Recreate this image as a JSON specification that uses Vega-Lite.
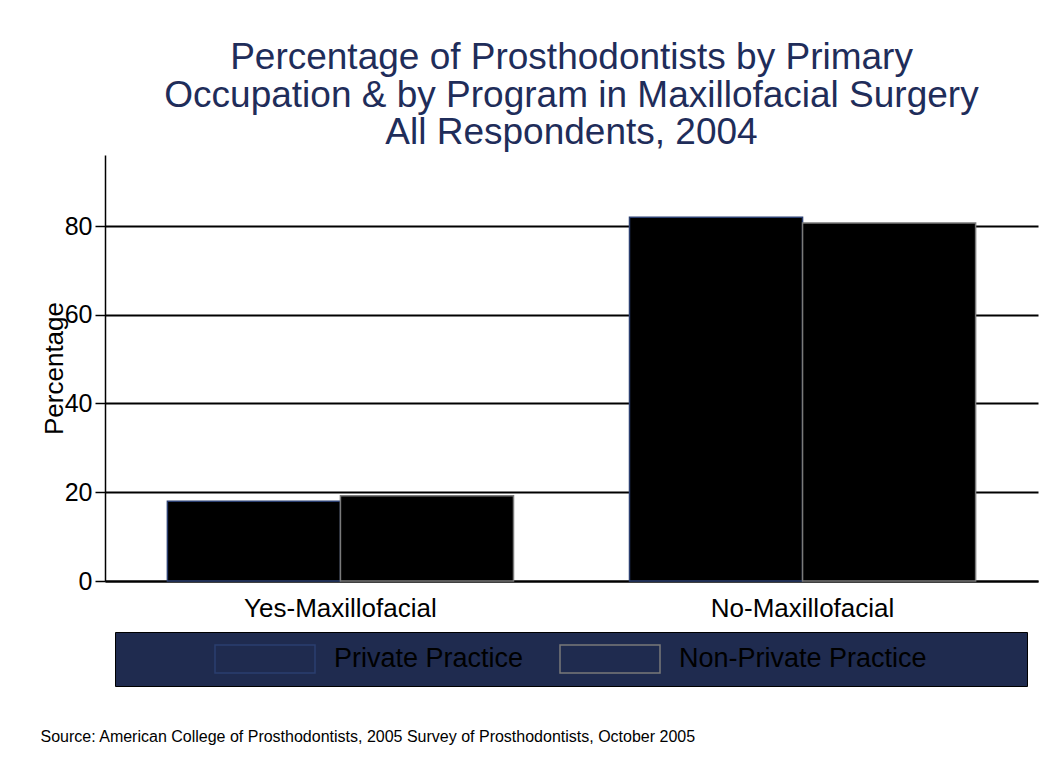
{
  "$schema": "https://vega.github.io/schema/vega-lite/v6.json",
  "autosize": {"type": "none"},
  "width": 933,
  "height": 426,
  "padding": {"left": 105, "top": 155, "right": 15, "bottom": 190},
  "background": "white",
  "config": {
    "view": {"stroke": null},
    "font": "Liberation Sans"
  },
  "title": {
    "text": ["Percentage of Prosthodontists by Primary", "Occupation & by Program in Maxillofacial Surgery", "All Respondents, 2004"],
    "fontSize": 37,
    "fontWeight": "normal",
    "color": "#1f2d5a",
    "lineHeight": 37.5,
    "anchor": "middle",
    "offset": 3
  },
  "data": {
    "values": [
      {"program": "Yes-Maxillofacial", "series": "Private Practice", "value": 18.0},
      {"program": "Yes-Maxillofacial", "series": "Non-Private Practice", "value": 19.2},
      {"program": "No-Maxillofacial", "series": "Private Practice", "value": 82.0},
      {"program": "No-Maxillofacial", "series": "Non-Private Practice", "value": 80.7}
    ]
  },
  "mark": {"type": "bar", "strokeWidth": 1.5, "fillOpacity": 1},
  "encoding": {
    "x": {
      "field": "program",
      "type": "nominal",
      "sort": ["Yes-Maxillofacial", "No-Maxillofacial"],
      "scale": {"paddingInner": 0.251, "paddingOuter": 0.135},
      "axis": {
        "title": "Source: American College of Prosthodontists, 2005 Survey of Prosthodontists, October 2005",
        "titleFontSize": 16,
        "titleFontWeight": "normal",
        "titleColor": "black",
        "titleAnchor": "start",
        "titleAlign": "left",
        "titleBaseline": "alphabetic",
        "titleX": -65,
        "titleY": 160,
        "labelAngle": 0,
        "labelFontSize": 26,
        "labelLimit": 500,
        "labelColor": "black",
        "labelPadding": 14,
        "ticks": false,
        "domainColor": "black",
        "domainWidth": 2
      }
    },
    "xOffset": {
      "field": "series",
      "type": "nominal",
      "sort": ["Private Practice", "Non-Private Practice"],
      "scale": {"paddingInner": 0, "paddingOuter": 0}
    },
    "y": {
      "field": "value",
      "type": "quantitative",
      "scale": {"domain": [0, 96], "nice": false},
      "axis": {
        "values": [0, 20, 40, 60, 80],
        "grid": true,
        "gridColor": "black",
        "gridWidth": 2,
        "gridOpacity": 1,
        "tickColor": "black",
        "tickSize": 10,
        "tickWidth": 1.5,
        "domainColor": "black",
        "domainWidth": 1.5,
        "labelFontSize": 25,
        "labelColor": "black",
        "labelPadding": 3,
        "title": "Percentage",
        "titleFontSize": 26,
        "titleFontWeight": "normal",
        "titleColor": "black",
        "titleAngle": 270,
        "titleAlign": "center",
        "titleBaseline": "alphabetic",
        "titleX": -43,
        "titleY": 213
      }
    },
    "fill": {
      "field": "series",
      "type": "nominal",
      "sort": ["Private Practice", "Non-Private Practice"],
      "scale": {"range": ["black", "black"]},
      "legend": null
    },
    "stroke": {
      "field": "series",
      "type": "nominal",
      "sort": ["Private Practice", "Non-Private Practice"],
      "scale": {"range": ["#2b3f70", "#7a7a7a"]},
      "legend": {
        "orient": "none",
        "legendX": 10,
        "legendY": 477,
        "direction": "horizontal",
        "fillColor": "#1f2b4f",
        "strokeColor": "black",
        "padding": 12,
        "title": "\u2800\u2800\u2800\u2800\u2800",
        "titleOrient": "left",
        "titleFontSize": 22,
        "titlePadding": 7,
        "symbolType": "M-1,-0.28H1V0.28H-1Z",
        "symbolSize": 10000,
        "symbolStrokeWidth": 1.5,
        "symbolFillColor": "#1f2b4f",
        "clipHeight": 30,
        "labelFontSize": 27,
        "labelColor": "black",
        "labelOffset": 18,
        "labelLimit": 600,
        "columnPadding": 35,
        "labelExpr": "datum.label == 'Non-Private Practice' ? datum.label + '\u00a0\u2800\u2800\u2800\u2800' : datum.label",
        "encode": {
          "legend": {"strokeWidth": {"value": 1.5}}
        }
      }
    }
  }
}
